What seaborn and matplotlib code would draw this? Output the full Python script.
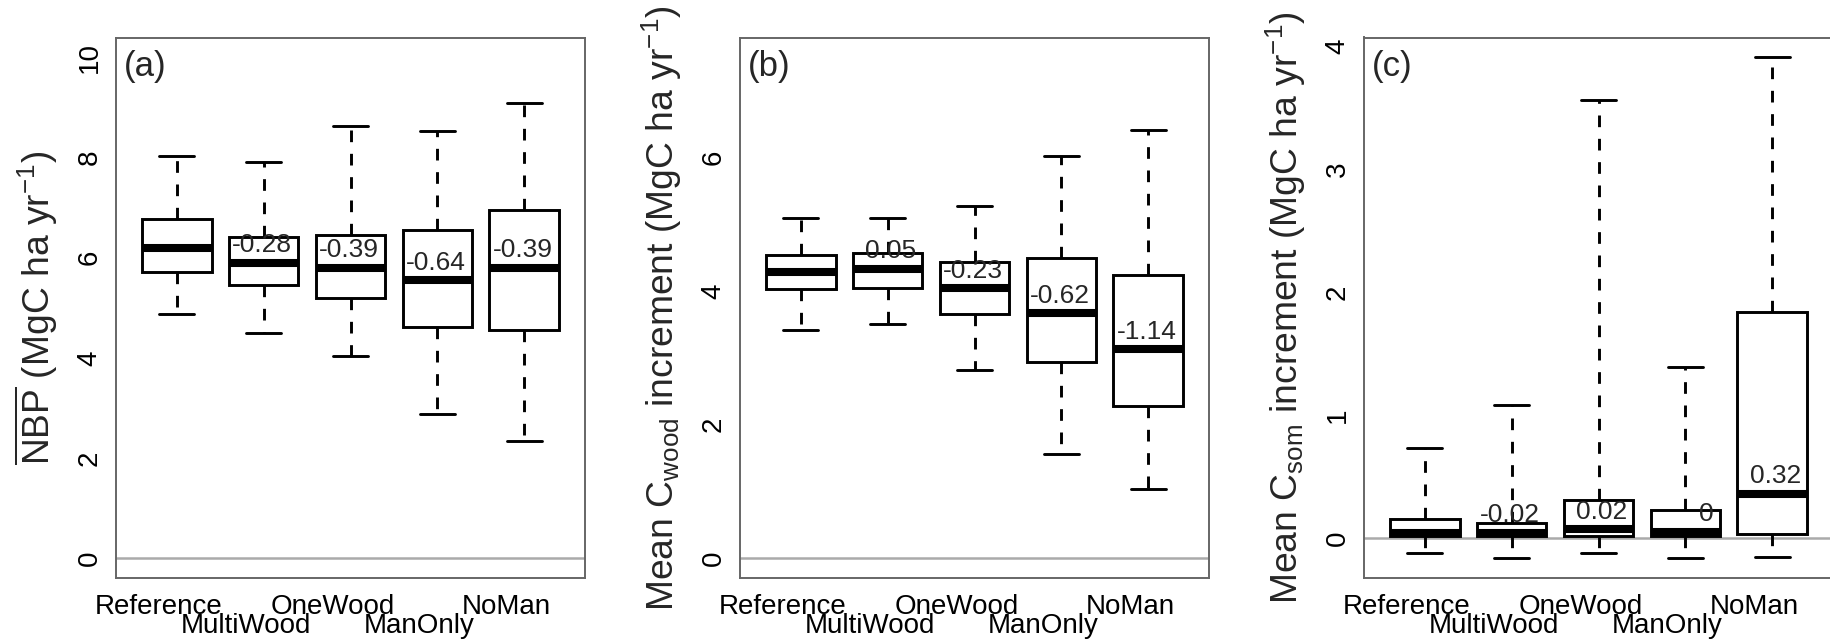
import numpy as np
import pandas as pd
import matplotlib
matplotlib.use("Agg")
import matplotlib.pyplot as plt
import seaborn as sns
from matplotlib.transforms import ScaledTranslation

# ---------------- data ----------------
categories = ["Reference", "MultiWood", "OneWood", "ManOnly", "NoMan"]

# Panel (a): mean NBP
nbp_low = [4.87, 4.49, 4.03, 2.87, 2.33]
nbp_q1 = [5.71, 5.45, 5.20, 4.61, 4.55]
nbp_med = [6.19, 5.90, 5.80, 5.55, 5.80]
nbp_q3 = [6.77, 6.41, 6.45, 6.55, 6.96]
nbp_high = [8.03, 7.92, 8.64, 8.53, 9.09]
nbp_labels = ["", "-0.28", "-0.39", "-0.64", "-0.39"]

# Panel (b): mean C_wood increment
wood_low = [3.42, 3.51, 2.82, 1.56, 1.04]
wood_q1 = [4.03, 4.05, 3.66, 2.93, 2.28]
wood_med = [4.29, 4.33, 4.04, 3.67, 3.13]
wood_q3 = [4.54, 4.57, 4.44, 4.49, 4.24]
wood_high = [5.09, 5.10, 5.28, 6.03, 6.42]
wood_labels = ["", "0.05", "-0.23", "-0.62", "-1.14"]

# Panel (c): mean C_som increment
som_low = [-0.12, -0.16, -0.12, -0.16, -0.15]
som_q1 = [0.018, 0.018, 0.018, 0.018, 0.034]
som_med = [0.045, 0.042, 0.072, 0.053, 0.36]
som_q3 = [0.159, 0.126, 0.314, 0.227, 1.84]
som_high = [0.73, 1.08, 3.56, 1.39, 3.91]
som_labels = ["", "-0.02", "0.02", "0", "0.32"]

panel_tags = ["(a)", "(b)", "(c)"]
ylabels = [
    r"$\overline{\mathrm{NBP}}$ (MgC ha yr$^{-1}$)",
    r"Mean C$_{\mathrm{wood}}$ increment (MgC ha yr$^{-1}$)",
    r"Mean C$_{\mathrm{som}}$ increment (MgC ha yr$^{-1}$)",
]
ylims = [(-0.4, 10.4), (-0.3, 7.8), (-0.324, 4.072)]
yticks = [[0, 2, 4, 6, 8, 10], [0, 2, 4, 6], [0, 1, 2, 3, 4]]


def long_table(low, q1, med, q3, high):
    rows = []
    for cat, vals in zip(categories, zip(low, q1, med, q3, high)):
        for v in vals:
            rows.append({"scenario": cat, "value": v})
    return pd.DataFrame(rows)


tables = [
    long_table(nbp_low, nbp_q1, nbp_med, nbp_q3, nbp_high),
    long_table(wood_low, wood_q1, wood_med, wood_q3, wood_high),
    long_table(som_low, som_q1, som_med, som_q3, som_high),
]
medians = [nbp_med, wood_med, som_med]
labels = [nbp_labels, wood_labels, som_labels]

# ---------------- style ----------------
sns.set_style("white")
plt.rcParams["font.family"] = ["Liberation Sans", "DejaVu Sans"]
plt.rcParams["mathtext.fontset"] = "custom"
plt.rcParams["mathtext.rm"] = "Liberation Sans"
plt.rcParams["mathtext.it"] = "Liberation Sans:italic"
plt.rcParams["mathtext.bf"] = "Liberation Sans:bold"

FRAME = "#666666"
W, H = 1830, 639
fig = plt.figure(figsize=(W / 100, H / 100), dpi=100)

lefts = [116, 740, 1364]
ax_w = 469
ax_top, ax_bot = 37.5, 578

for k in range(3):
    ax = fig.add_axes([lefts[k] / W, 1 - ax_bot / H, ax_w / W, (ax_bot - ax_top) / H])
    ax.axhline(0, color="#aaaaaa", lw=1.8, zorder=0.5)
    sns.boxplot(
        data=tables[k], x="scenario", y="value", order=categories, ax=ax,
        whis=(0, 100), width=0.8, color="white", linecolor="black",
        linewidth=2.1, saturation=1, fliersize=0,
        medianprops={"linewidth": 5.8, "solid_capstyle": "butt"},
        whiskerprops={"linestyle": (0, (4, 4))},
    )
    ax.set_xlim(-0.7, 4.7)
    ax.set_ylim(*ylims[k])
    ax.set_xlabel("")
    ax.set_yticks(yticks[k])
    ax.set_yticklabels([str(t) for t in yticks[k]])
    ax.set_xticks(range(len(categories)))
    ax.set_xticklabels(categories)
    for sp in ax.spines.values():
        sp.set_visible(True)
        sp.set_color(FRAME)
        sp.set_linewidth(1.4)
    ax.tick_params(axis="both", which="both", direction="in", length=7.2,
                   width=1.4, color=FRAME, labelcolor="black", labelsize=20)
    ax.tick_params(axis="x", pad=11.5)
    ax.tick_params(axis="y", pad=9.5, labelrotation=90)
    for lbl in ax.get_yticklabels():
        lbl.set_va("center")
    for i, lbl in enumerate(ax.get_xticklabels()):
        dy = -0.19 if i % 2 else 0.0
        lbl.set_transform(lbl.get_transform() + ScaledTranslation(-0.18, dy, fig.dpi_scale_trans))

    ax.set_ylabel(ylabels[k], fontsize=26.8, va="baseline")
    ax.yaxis.set_label_coords(-66 / ax_w, 0.5)

    for i, (lab, m) in enumerate(zip(labels[k], medians[k])):
        if lab:
            ax.annotate(lab, xy=(i + 0.33, m), xytext=(0, 7.6),
                        textcoords="offset points", ha="right", va="baseline",
                        fontsize=19)

    ax.annotate(panel_tags[k], xy=(0, 1), xycoords="axes fraction",
                xytext=(5.5, -9), textcoords="offset points",
                ha="left", va="top", fontsize=25)

fig.savefig("out.png", dpi=100)
